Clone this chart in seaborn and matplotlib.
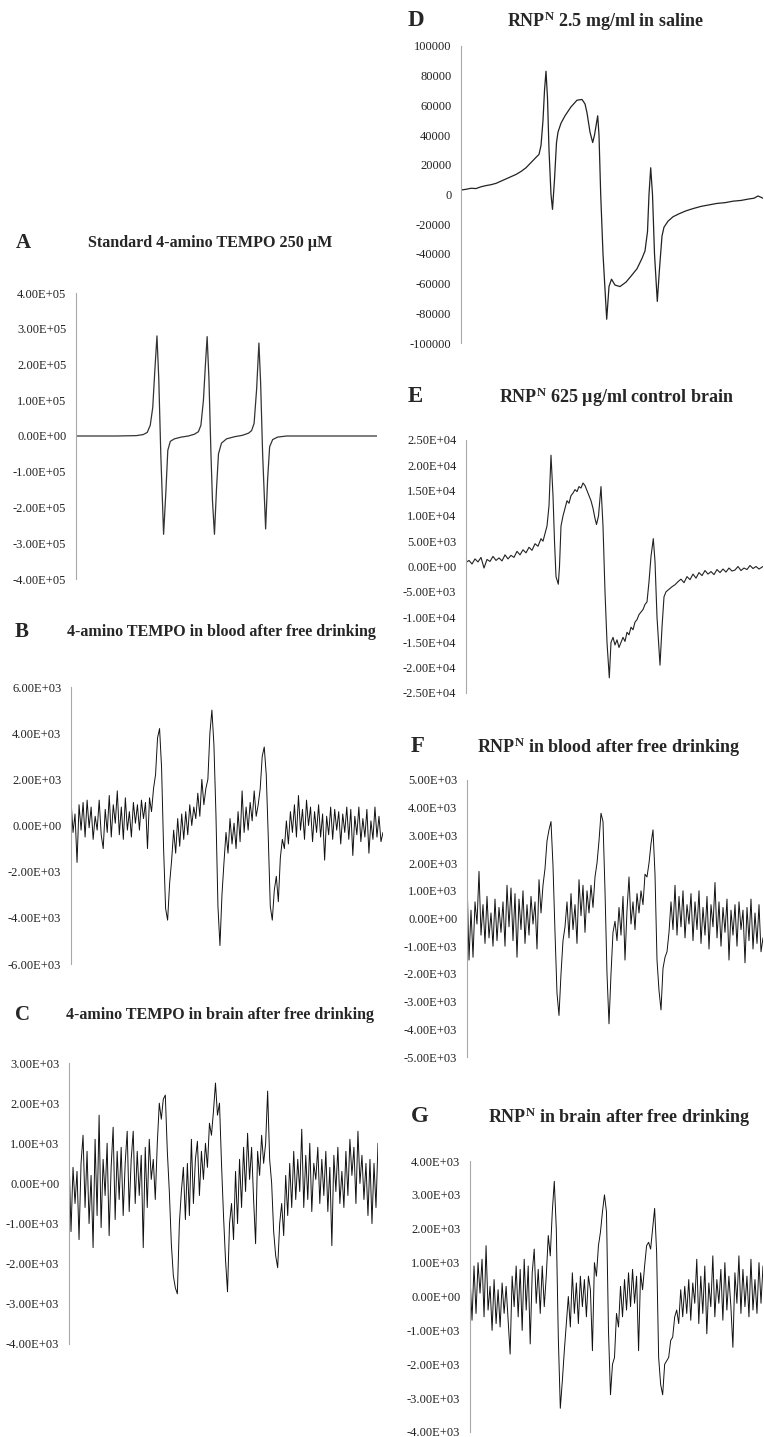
import numpy as np
import matplotlib
matplotlib.use("Agg")
import matplotlib.pyplot as plt
import seaborn as sns
from matplotlib.ticker import FuncFormatter

# --- figure size in pixels ---
W, H = 764, 1437

# --- A: standard 4-amino TEMPO 250 uM (signal in 1E+05) ---
a_field = [0, 40, 60, 67, 71, 74, 76.5, 78.5, 80.7, 82.5,
           84.5, 87.3, 89.5, 91.5, 94, 98, 105, 112, 118, 122,
           124.5, 127, 129, 130.7, 132.5, 134.5, 136, 138, 140, 142,
           145, 150, 158, 166, 172, 175, 177.5, 180, 182.3, 184,
           186, 189, 191, 193, 196, 201, 210, 250, 300]
a_signal = [0, 0, 0.01, 0.04, 0.1, 0.3, 0.8, 1.8, 2.8, 1.6,
            -0.5, -2.75, -1.6, -0.4, -0.15, -0.08, -0.03, 0.0, 0.05, 0.12,
            0.3, 1.0, 2.0, 2.78, 1.6, -0.5, -1.8, -2.75, -1.5, -0.5,
            -0.2, -0.08, -0.02, 0.02, 0.08, 0.15, 0.35, 1.3, 2.6, 1.5,
            -0.5, -2.6, -1.2, -0.3, -0.1, -0.03, 0.0, 0.0, 0.0]
a_ticks = [4e5, 3e5, 2e5, 1e5, 0, -1e5, -2e5, -3e5, -4e5]

# --- B: 4-amino TEMPO in blood (signal in 1E+03, evenly spaced points) ---
b_signal = [1.1, -0.3, 0.5, -1.6, 0.9, -0.2, 1.0, -0.5, 1.1, -0.1,
            0.8, -0.6, 0.4, -0.2, 1.1, -0.4, -1.0, 0.7, -0.3, 1.3,
            -0.5, 0.9, 0.1, 1.5, -0.4, 0.8, -0.6, 1.2, -0.2, 0.6,
            -0.5, 1.0, 0.1, 0.9, -0.2, 1.1, 0.3, 1.0, -1.0, 1.2,
            0.6, 1.6, 2.2, 3.8, 4.2, 2.5, -1.0, -3.6, -4.1, -2.5,
            -1.5, -0.2, -1.2, 0.3, -0.9, 0.5, -0.6, 0.6, -0.4, 0.9,
            0.0, 0.8, 0.3, 1.4, 0.4, 2.0, 0.9, 1.6, 2.0, 4.0,
            5.0, 3.5, 0.5, -3.5, -5.2, -3.0, -1.6, -0.3, -1.2, 0.3,
            -0.8, 0.1, -1.0, 0.6, -0.7, 1.5, -0.3, 0.8, -0.2, 1.0,
            0.2, 1.5, 0.4, 0.9, 1.6, 3.0, 3.4, 2.2, -0.5, -3.5,
            -4.1, -2.8, -2.2, -3.3, -1.4, -0.6, -1.0, 0.2, -0.8, 0.6,
            -0.3, 0.9, -0.5, 1.3, -0.2, 0.7, -0.6, 1.1, 0.0, 0.8,
            -0.7, 0.6, -0.3, 0.9, -0.5, 0.5, -1.5, 0.4, -0.4, 0.8,
            -0.6, 0.7, -0.2, 0.6, -0.8, 0.5, -0.3, 0.8, -0.6, 0.7,
            -1.3, 0.4, -0.4, 0.8, -0.7, 0.3, -0.5, 0.7, -1.2, 0.2,
            -0.6, 0.8, -0.5, 0.4, -0.7, -0.3]
b_ticks = [6e3, 4e3, 2e3, 0, -2e3, -4e3, -6e3]

# --- C: 4-amino TEMPO in brain (signal in 1E+03) ---
c_signal = [0.7, -1.2, 0.4, -0.5, 0.3, -1.4, 0.5, 1.2, -0.6, 0.8,
            -1.0, 0.2, -1.6, 1.1, -0.8, 1.7, -1.1, 0.6, -0.3, 1.0,
            -1.3, 0.4, 1.4, -0.9, 0.8, -0.4, 0.9, -0.8, 0.5, 1.3,
            -0.7, 0.6, 1.3, -0.5, 0.8, -0.3, 0.7, -1.6, 0.9, -0.6,
            1.1, 0.1, 0.6, -0.4, 1.0, 2.0, 1.6, 2.1, 2.2, 0.8,
            -0.2, -1.5, -2.3, -2.6, -2.75, -1.0, -0.2, 0.4, -0.9, 0.5,
            -0.8, 1.1, -0.5, 0.6, 1.05, -0.3, 0.8, 0.1, 1.0, 0.4,
            1.5, 1.2, 1.8, 2.5, 1.7, 2.0, 0.5, -0.8, -1.9, -2.7,
            -1.0, -0.5, -1.4, 0.3, -1.0, 0.6, -0.6, 0.9, -0.2, 1.25,
            0.1, 0.9, -0.4, -1.5, 0.8, 0.2, 1.2, 0.5, 1.0, 2.3,
            0.6, 0.0, -1.2, -1.8, -2.1, -1.0, -0.5, -1.3, 0.2, -0.8,
            0.5, -0.6, 0.8, -0.4, 0.6, -0.2, 1.35, -0.6, 0.7, -0.4,
            1.0, -0.7, 0.5, 0.1, 0.9, -0.5, 0.6, -0.3, 0.8, -0.7,
            0.4, -1.55, 0.7, -0.2, 0.9, -0.5, 0.3, -0.6, 0.8, -0.3,
            1.1, 0.2, 0.9, -0.5, 1.3, 0.0, 0.7, -0.4, 0.5, -0.8,
            0.6, -1.0, 0.5, -0.6, 1.0]
c_ticks = [3e3, 2e3, 1e3, 0, -1e3, -2e3, -3e3, -4e3]

# --- D: RNP-N 2.5 mg/ml in saline (signal in thousands) ---
d_field = [0, 5, 10, 15, 20, 25, 30, 35, 40, 45,
           50, 55, 60, 65, 70, 75, 78, 80, 82, 83.5,
           85, 86.5, 88, 90, 91.5, 93.5, 95.5, 97, 100, 104,
           110, 116, 121, 124, 126, 129, 131.7, 133.5, 136.7, 138,
           139.7, 142, 145.7, 148, 150.5, 154, 159, 165, 170, 176,
           181, 184, 186.5, 188, 189.7, 191.5, 193.5, 196.3, 198.5, 201,
           203, 207, 212, 218, 225, 232, 240, 248, 256, 264,
           272, 280, 288, 293, 297, 302]
d_signal = [3, 3.5, 4.2, 4.0, 5.2, 6.0, 6.6, 7.5, 9.0, 10.5,
            12.0, 13.5, 15.5, 18.0, 21.5, 25, 27, 33, 50, 70,
            83, 65, 30, 0, -10, 10, 35, 42, 48, 53,
            59, 63.5, 64, 61, 55, 42, 35, 40, 53, 40,
            0, -40, -84, -62, -57, -61, -62, -59, -55, -50,
            -43, -38, -25, 0, 18, 0, -40, -72, -50, -28,
            -22, -18, -15, -13, -11, -9.5, -8, -7, -6, -5.5,
            -4.5, -4, -3, -2.5, -1, -2.5]
d_ticks = [100000, 80000, 60000, 40000, 20000, 0,
           -20000, -40000, -60000, -80000, -100000]

# --- E: RNP-N 625 ug/ml control brain (signal in 1E+03) ---
e_field = [0, 3, 6, 9, 12, 15, 18, 21, 24, 27,
           30, 33, 36, 39, 42, 45, 48, 51, 54, 57,
           60, 63, 66, 69, 72, 75, 77, 79, 81, 83,
           85, 87, 88.5, 90, 92.3, 93.5, 95, 97, 99, 101,
           103, 105, 107, 109, 111, 113, 115, 117, 119, 121,
           123, 125, 127, 129, 130.5, 132.5, 135, 137, 139, 141,
           143.3, 145, 147, 149, 151, 153, 155, 157, 159, 161,
           163, 165, 167, 169, 171, 173, 175, 177, 179, 181,
           183, 185, 187.3, 189, 191, 194, 196, 198, 200, 203,
           206, 209, 212, 215, 218, 221, 224, 227, 230, 233,
           236, 239, 242, 245, 248, 251, 254, 257, 260, 263,
           266, 269, 272, 275, 278, 281, 284, 287, 290, 293,
           297]
e_signal = [0.8, 1.2, 0.5, 1.5, 0.9, 1.8, -0.3, 1.4, 1.0, 2.0,
            1.2, 1.7, 1.1, 2.3, 1.5, 2.2, 1.8, 3.0, 2.3, 3.3,
            2.7, 3.8, 3.2, 4.5, 4.0, 5.5, 5.0, 6.5, 8.0, 12.0,
            22.0, 14.0, 5.0, -2.0, -3.5, 0.0, 8.0, 10.0, 11.5, 13.0,
            12.5, 14.0, 14.5, 15.2, 14.8, 15.8, 15.5, 16.5, 16.0, 15.0,
            14.0, 13.0, 11.5, 9.5, 8.3, 10.0, 15.8, 8.0, -5.0, -15.0,
            -22.0, -15.0, -14.0, -15.5, -14.5, -16.0, -15.0, -14.0, -14.8, -13.0,
            -13.5, -12.0, -12.5, -11.0, -10.5, -9.5, -9.0, -8.5, -7.5, -7.0,
            -3.0, 2.0, 5.5, 1.0, -10.0, -19.5, -12.0, -6.0, -5.0, -4.5,
            -4.0, -3.6, -3.0, -2.5, -3.2, -2.0, -2.6, -1.5, -2.3, -1.2,
            -1.8, -0.8, -1.5, -1.0, -1.6, -0.6, -1.2, -0.5, -1.1, -0.3,
            -0.9, -0.7, 0.0, -0.8, -0.3, -0.6, 0.2, -0.4, 0.0, -0.5,
            0.0]
e_ticks = [2.5e4, 2e4, 1.5e4, 1e4, 5e3, 0, -5e3, -1e4, -1.5e4, -2e4, -2.5e4]

# --- F: RNP-N in blood (signal in 1E+03) ---
f_signal = [1.45, -1.5, 0.3, -1.4, 0.6, -0.2, 1.7, -0.6, 0.5, -0.9,
            0.8, -0.7, 0.2, -1.0, 0.7, -0.8, 0.4, -0.5, 0.6, -1.0,
            1.2, -0.3, 1.1, -0.8, 0.9, -1.4, 0.7, -0.4, 1.0, -0.9,
            0.5, -0.6, 0.8, -0.2, 0.6, -1.1, 1.4, 0.2, 1.2, 1.8,
            2.8, 3.2, 3.5, 1.9, -0.5, -2.7, -3.5, -2.0, -0.8, -0.3,
            0.6, -0.7, 0.9, -0.4, 0.5, -0.9, 1.4, 0.1, 1.2, -0.5,
            1.0, 0.2, 1.2, 0.4, 1.5, 2.0, 2.8, 3.8, 3.5, 1.0,
            -2.0, -3.8, -2.0, -0.5, -0.1, -0.8, 0.4, -0.6, 0.8, -1.5,
            0.3, 1.5, -0.2, 0.6, -0.4, 0.9, 0.2, 1.0, 0.5, 1.6,
            1.5, 2.0, 2.7, 3.2, 1.6, -1.5, -2.6, -3.3, -1.8, -1.4,
            -1.2, -0.5, 0.6, -0.4, 1.2, -0.6, 0.8, -0.3, 1.0, -0.7,
            0.5, -0.2, 0.9, -0.8, 0.6, -0.4, 1.0, -0.9, 0.4, -0.6,
            0.8, -1.1, 0.5, -0.3, 1.3, -0.7, 0.6, -1.0, 0.4, -0.5,
            0.7, -1.5, 0.3, -0.6, 0.5, -1.0, 0.6, -0.4, 0.3, -1.6,
            0.4, -0.8, 0.7, -1.1, 0.2, -0.9, 0.5, -1.2, -0.7]
f_ticks = [5e3, 4e3, 3e3, 2e3, 1e3, 0, -1e3, -2e3, -3e3, -4e3, -5e3]

# --- G: RNP-N in brain (signal in 1E+03) ---
g_signal = [0.6, -0.7, 0.9, -0.5, 1.0, 0.1, 1.1, -0.6, 1.5, -0.4,
            0.3, -1.0, 0.5, -0.8, 0.2, -0.9, 0.4, -0.5, 0.3, -0.7,
            -1.7, 0.6, -0.3, 0.9, -0.6, 0.8, -1.0, 1.1, -0.4, 0.9,
            -1.4, 0.7, 1.4, -0.2, 0.8, -0.5, 0.9, -0.3, 0.6, 1.8,
            1.2, 2.5, 3.4, 2.0, -1.2, -3.3, -2.5, -1.6, -0.8, 0.0,
            -0.9, 0.7, -0.5, 0.4, -0.8, 0.6, -0.3, 0.5, -0.6, 0.6,
            0.2, -1.6, 1.0, 0.6, 1.5, 1.9, 2.5, 3.0, 2.5, -1.0,
            -2.9, -2.0, -1.8, -0.5, -0.9, 0.3, -0.6, 0.5, -0.4, 0.7,
            -0.3, 0.8, -0.2, 0.6, -1.6, 0.7, 0.2, 0.9, 1.5, 1.6,
            1.4, 2.0, 2.6, 1.3, -1.8, -2.6, -2.9, -2.0, -1.9, -1.8,
            -1.3, -1.2, -0.6, -0.4, -0.8, 0.2, -0.6, 0.3, -0.5, 0.5,
            -0.7, 0.4, -0.2, 1.1, -0.8, 0.6, -0.5, 0.9, -1.1, 0.4,
            -0.3, 1.2, -0.6, 0.5, -0.2, 0.8, -0.7, 1.0, -0.4, 0.6,
            -0.3, -1.5, 0.7, -0.2, 1.2, -0.5, 0.8, -0.3, 0.6, -0.6,
            1.1, -0.4, 0.5, -0.5, 1.0, -0.2, 0.9]
g_ticks = [4e3, 3e3, 2e3, 1e3, 0, -1e3, -2e3, -3e3, -4e3]

assert len(a_field) == len(a_signal)
assert len(d_field) == len(d_signal)
assert len(e_field) == len(e_signal)

# --- style ---
sns.set_style("white")
plt.rcParams['font.family'] = ['Liberation Serif', 'DejaVu Serif']
plt.rcParams['axes.unicode_minus'] = False
plt.rcParams['mathtext.fontset'] = 'custom'
plt.rcParams['mathtext.rm'] = 'Liberation Serif:bold'
plt.rcParams['mathtext.it'] = 'Liberation Serif:bold'
plt.rcParams['mathtext.bf'] = 'Liberation Serif:bold'

AXIS_GREY = '#a8a8a8'
sci_fmt = FuncFormatter(lambda v, p: f"{v:.2E}")
int_fmt = FuncFormatter(lambda v, p: f"{int(round(v))}")

fig = plt.figure(figsize=(W / 100, H / 100), dpi=100)


def add_panel(box, field, signal, ticks, fmt, color='#1a1a1a', lw=0.8):
    # box = (left, right, top, bottom) in pixels
    x0, x1, y0, y1 = box
    ax = fig.add_axes([x0 / W, 1 - y1 / H, (x1 - x0) / W, (y1 - y0) / H])
    sns.lineplot(x=field, y=signal, ax=ax, color=color, linewidth=lw,
                 sort=False, estimator=None)
    ax.set_xlim(min(field), max(field))
    ax.set_ylim(min(ticks), max(ticks))
    ax.set_yticks(ticks)
    ax.yaxis.set_major_formatter(fmt)
    ax.set_xticks([])
    ax.set_xlabel('')
    ax.set_ylabel('')
    for s in ['top', 'right', 'bottom']:
        ax.spines[s].set_visible(False)
    ax.spines['left'].set_color(AXIS_GREY)
    ax.spines['left'].set_linewidth(0.8)
    ax.tick_params(axis='y', direction='out', length=3, width=0.8,
                   color=AXIS_GREY, labelsize=9, labelcolor='#222222', pad=4)
    ax.patch.set_alpha(0)
    return ax


def evenly(values):
    return np.arange(len(values))


add_panel((76, 377, 293, 579), a_field, np.array(a_signal) * 1e5, a_ticks,
          sci_fmt, color='#333333', lw=0.9)
add_panel((71, 383, 687, 964), evenly(b_signal), np.array(b_signal) * 1e3,
          b_ticks, sci_fmt, color='#111111', lw=0.7)
add_panel((69, 378, 1063, 1344), evenly(c_signal), np.array(c_signal) * 1e3,
          c_ticks, sci_fmt, color='#111111', lw=0.7)
add_panel((461, 763, 46, 343), d_field, np.array(d_signal) * 1e3, d_ticks,
          int_fmt, color='#222222', lw=0.9)
add_panel((466, 763, 440, 693), e_field, np.array(e_signal) * 1e3, e_ticks,
          sci_fmt, color='#222222', lw=0.8)
add_panel((467, 763, 780, 1057), evenly(f_signal), np.array(f_signal) * 1e3,
          f_ticks, sci_fmt, color='#111111', lw=0.7)
add_panel((470, 763, 1161, 1432), evenly(g_signal), np.array(g_signal) * 1e3,
          g_ticks, sci_fmt, color='#111111', lw=0.7)

# --- panel letters and titles ---
letters = ['A', 'B', 'C', 'D', 'E', 'F', 'G']
titles = ['Standard 4-amino TEMPO 250 µM',
          '4-amino TEMPO in blood after free drinking',
          '4-amino TEMPO in brain after free drinking',
          'RNP$^{\\mathrm{N}}$ 2.5 mg/ml in saline',
          'RNP$^{\\mathrm{N}}$ 625 µg/ml control brain',
          'RNP$^{\\mathrm{N}}$ in blood after free drinking',
          'RNP$^{\\mathrm{N}}$ in brain after free drinking']
letter_pos = [(16, 243), (15, 632), (15, 1015), (408, 21), (408, 397), (411, 747), (411, 1117)]
title_pos = [(210, 243), (221, 632), (220, 1015), (605, 21), (616, 397), (609, 747), (619, 1117)]
letter_size = [15, 15, 15, 16.5, 16.5, 16.5, 16.5]
title_size = [11.6, 11.5, 11.5, 13, 13, 13, 13]

for lab, (lx, ly), ls in zip(letters, letter_pos, letter_size):
    fig.text(lx / W, 1 - ly / H, lab, fontsize=ls, fontweight='bold',
             ha='left', va='center')
for t, (tx, ty), ts in zip(titles, title_pos, title_size):
    fig.text(tx / W, 1 - ty / H, t, fontsize=ts, fontweight='bold',
             ha='center', va='center')

fig.savefig('out.png', dpi=100)
